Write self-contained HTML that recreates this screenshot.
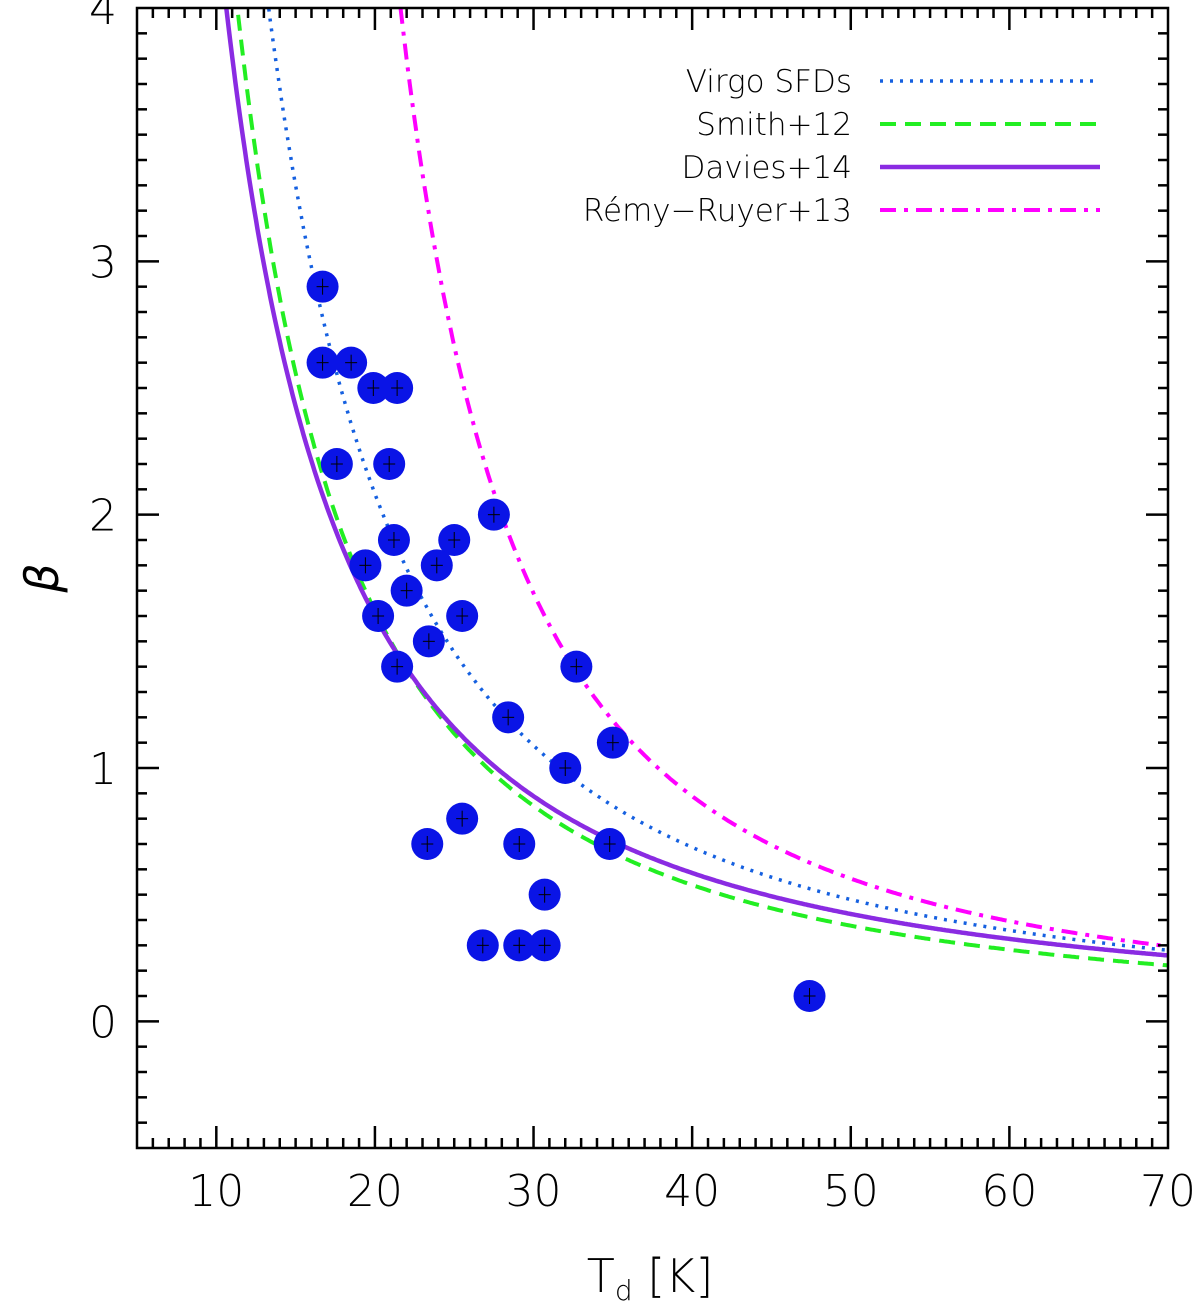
<!DOCTYPE html>
<html><head><meta charset="utf-8"><style>
body{margin:0;background:#fff}
svg text{font-family:"DejaVu Sans","Liberation Sans",sans-serif;font-weight:200}
</style></head><body>
<svg id="chart" width="1200" height="1304" xmlns="http://www.w3.org/2000/svg"></svg>
<script>
const temps=[16.7,16.7,18.5,19.9,21.4,17.6,20.9,27.5,19.4,21.2,25,23.9,22,20.2,25.5,23.4,21.4,32.7,28.4,35,32,25.5,23.3,29.1,34.8,30.7,26.8,29.1,30.7,47.4];
const betas=[2.9,2.6,2.6,2.5,2.5,2.2,2.2,2.0,1.8,1.9,1.9,1.8,1.7,1.6,1.6,1.5,1.4,1.4,1.2,1.1,1.0,0.8,0.7,0.7,0.7,0.5,0.3,0.3,0.3,0.1];
const xTicks=[10,20,30,40,50,60,70];
const yTicks=[0,1,2,3,4];
const modelNames=["Virgo SFDs","Smith+12","Davies+14","Rémy−Ruyer+13"];
const modelA=[4*Math.pow(13.3,1.6),1.62*Math.pow(20,1.59),1.6*Math.pow(20,1.45),195];
const modelT0=[0,0,0,10];
const modelN=[1.6,1.59,1.45,1.585];
const modelColors=["#1560e0","#22ee22","#8a2be2","#ff00ff"];
const modelDash=["3,7","16,9","","16,8,4,8"];
const modelWidth=[3.5,4,4.5,4];

const NS="http://www.w3.org/2000/svg";
const svg=document.getElementById('chart');
const L=137,R=1168,T=8,B=1148;
const xmin=5,xmax=70,ymin=-0.5,ymax=4;
const sx=v=>L+(v-xmin)/(xmax-xmin)*(R-L);
const sy=v=>B-(v-ymin)/(ymax-ymin)*(B-T);
function el(tag,attrs,parent){const e=document.createElementNS(NS,tag);for(const k in attrs)e.setAttribute(k,attrs[k]);(parent||svg).appendChild(e);return e;}

const defs=el('defs',{});
const cp=el('clipPath',{id:'clip'},defs);el('rect',{x:L,y:T,width:R-L,height:B-T},cp);

const curves=el('g',{'clip-path':'url(#clip)'});


for(let m=0;m<modelNames.length;m++){
  let d='';
  for(let t=modelT0[m]+3;t<=70.5;t+=0.1){
    const b=modelA[m]/Math.pow(t-modelT0[m],modelN[m]);
    if(b>5)continue;
    d+=(d?'L':'M')+sx(t).toFixed(1)+','+sy(b).toFixed(1);
  }
  const p=el('path',{d:d,fill:'none',stroke:modelColors[m],'stroke-width':modelWidth[m],'stroke-dasharray':modelDash[m]},curves);
  
  
}

const pts=el('g',{});


for(let i=0;i<temps.length;i++){
  const c=el('circle',{cx:sx(temps[i]),cy:sy(betas[i]),r:16,fill:'#0a14e6'},pts);
  
  
  el('line',{x1:sx(temps[i]),x2:sx(temps[i]),y1:sy(betas[i])-8,y2:sy(betas[i])+8,stroke:'#000','stroke-width':1},pts);
  el('line',{x1:sx(temps[i])-6,x2:sx(temps[i])+6,y1:sy(betas[i]),y2:sy(betas[i]),stroke:'#000','stroke-width':1},pts);
}

const ax=el('g',{stroke:'#000','stroke-width':2.5});


el('rect',{x:L,y:T,width:R-L,height:B-T,fill:'none'},ax);
for(let t=6;t<70;t++){
  const len=t%10===0?22:10;
  el('line',{x1:sx(t),x2:sx(t),y1:B,y2:B-len},ax);
  el('line',{x1:sx(t),x2:sx(t),y1:T,y2:T+len},ax);
}
for(let k=-4;k<40;k++){
  const v=k/10;const len=k%10===0?22:10;
  el('line',{x1:L,x2:L+len,y1:sy(v),y2:sy(v)},ax);
  el('line',{x1:R,x2:R-len,y1:sy(v),y2:sy(v)},ax);
}
for(const t of xTicks){
  const tx=el('text',{x:sx(t),y:1206,'font-size':44,'text-anchor':'middle'});tx.textContent=t;
  
  
}
for(const v of yTicks){
  const tx=el('text',{x:117,y:sy(v)+16,'font-size':44,'text-anchor':'end'});tx.textContent=v;
  
  
}
const xt=el('text',{x:650,y:1292,'font-size':46,'text-anchor':'middle'});
xt.innerHTML='T<tspan font-size="28" dy="8">d</tspan><tspan dy="-8"> [K]</tspan>';


const yt=el('text',{x:0,y:0,'font-size':46,'font-style':'italic','text-anchor':'middle',transform:'translate(58,578) rotate(-90)'});
yt.textContent='β';



const lg=el('g',{});


for(let m=0;m<modelNames.length;m++){
  const y=81+m*43;
  const tx=el('text',{x:852,y:y+11,'font-size':31,'text-anchor':'end'},lg);tx.textContent=modelNames[m];
  
  
  const ln=el('line',{x1:880,x2:1100,y1:y,y2:y,stroke:modelColors[m],'stroke-width':modelWidth[m],'stroke-dasharray':modelDash[m]},lg);
  
  
}
</script>
</body></html>
